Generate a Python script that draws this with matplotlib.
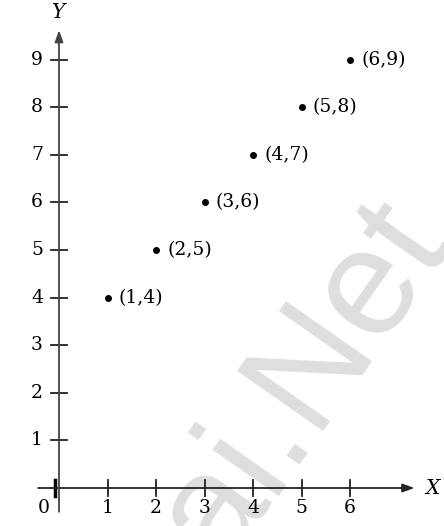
import matplotlib
matplotlib.use('Agg')
import matplotlib.pyplot as plt

# points
xs = [1, 2, 3, 4, 5, 6]
ys = [4, 5, 6, 7, 8, 9]
pt_labels = ['(1,4)', '(2,5)', '(3,6)', '(4,7)', '(5,8)', '(6,9)']
x_ticks = [1, 2, 3, 4, 5, 6]
y_ticks = [1, 2, 3, 4, 5, 6, 7, 8, 9]

W, H = 444, 526
ox, oy = 59, 488      # origin in pixels
ux, uy = 48.5, 47.6   # pixels per unit

fig = plt.figure(figsize=(W / 100, H / 100), dpi=100)
ax = fig.add_axes([0, 0, 1, 1])
ax.set_xlim(-ox / ux, (W - ox) / ux)
ax.set_ylim(-(H - oy) / uy, oy / uy)
ax.axis('off')

font = 'DejaVu Serif'
fs = 13.5
px_x = 1 / ux
px_y = 1 / uy

# watermark
ax.text((304 - ox) / ux, (oy - 382) / uy, 'ai.Net', fontsize=110, color='#dedede',
        family='Liberation Sans', rotation=55, ha='center', va='center',
        rotation_mode='anchor', zorder=0)

# axes with arrows
ax.annotate('', xy=(7.33, 0), xytext=(-0.43, 0),
            arrowprops=dict(arrowstyle='-|>,head_length=0.7,head_width=0.25',
                            color='#222222', lw=1.3, shrinkA=0, shrinkB=0))
ax.annotate('', xy=(0, 9.62), xytext=(0, -0.5),
            arrowprops=dict(arrowstyle='-|>,head_length=0.7,head_width=0.25',
                            color='#444444', lw=1.3, shrinkA=0, shrinkB=0))

# x ticks
for v in x_ticks:
    ax.plot([v, v], [-8 * px_y, 8 * px_y], color='#222222', lw=1.3)
    ax.text(v, -20 * px_y, str(v), fontsize=fs, family=font, ha='center', va='center')
ax.plot([-4 * px_x, -4 * px_x], [-8 * px_y, 8 * px_y], color='black', lw=2.5)
ax.text(-15 * px_x, -20 * px_y, '0', fontsize=fs, family=font, ha='center', va='center')

# y ticks
for v in y_ticks:
    ax.plot([-8 * px_x, 8 * px_x], [v, v], color='#222222', lw=1.3)
    ax.text(-16 * px_x, v, str(v), fontsize=fs, family=font, ha='right', va='center')

# axis names
ax.text((432 - ox) / ux, 0, 'X', fontsize=fs + 1, family=font, style='italic',
        ha='center', va='center')
ax.text(0, (oy - 12) / uy, 'Y', fontsize=fs + 1, family=font, style='italic',
        ha='center', va='center')

# points and labels
ax.plot(xs, ys, 'o', color='black', markersize=4, linestyle='none')
for x, y, s in zip(xs, ys, pt_labels):
    ax.text(x + 11 * px_x, y, s, fontsize=fs, family=font, ha='left', va='center')

fig.savefig('out.png', dpi=100)
